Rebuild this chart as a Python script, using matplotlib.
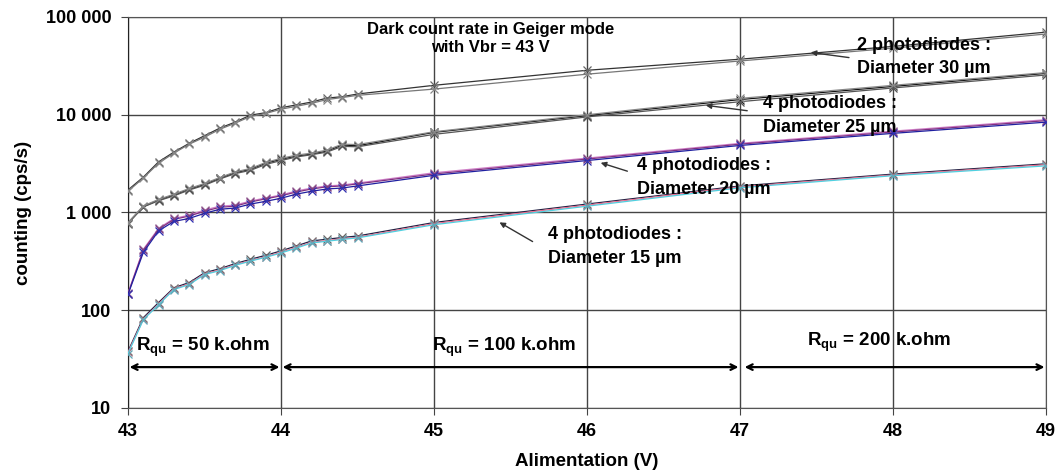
import matplotlib
matplotlib.use("Agg")
import matplotlib.pyplot as plt
from matplotlib.ticker import FixedLocator, NullLocator

plt.rcParams['font.family'] = ['Liberation Sans', 'DejaVu Sans']
plt.rcParams['font.weight'] = 'bold'
plt.rcParams['mathtext.fontset'] = 'custom'
plt.rcParams['mathtext.rm'] = 'Liberation Sans:bold'
plt.rcParams['mathtext.bf'] = 'Liberation Sans:bold'
plt.rcParams['mathtext.default'] = 'bf'

# supply voltage (V)
volts = [43.0, 43.1, 43.2, 43.3, 43.4, 43.5, 43.6, 43.7, 43.8, 43.9,
         44.0, 44.1, 44.2, 44.3, 44.4, 44.5, 45, 46, 47, 48, 49]

# 2 photodiodes, diameter 30 um
d30_a = [1700, 2300, 3300, 4150, 5100, 6100, 7300, 8400, 9900, 10500,
         11800, 12600, 13500, 14800, 15300, 16300, 20000, 28500, 37000, 50000, 70000]
d30_b = [1650, 2250, 3200, 4050, 5000, 5900, 7100, 8200, 9600, 10300,
         11400, 12200, 13100, 14300, 15000, 15800, 18300, 26000, 35500, 48000, 67000]

# 4 photodiodes, diameter 25 um
d25_a = [780, 1150, 1340, 1510, 1730, 1940, 2240, 2550, 2770, 3190,
         3500, 3780, 3960, 4250, 4900, 4820, 6600, 9800, 14300, 19500, 26500]
d25_b = [770, 1140, 1320, 1480, 1700, 1900, 2200, 2500, 2700, 3100,
         3400, 3700, 3900, 4150, 4750, 4700, 6300, 9500, 13600, 18800, 25500]
d25_c = [790, 1170, 1360, 1540, 1760, 1980, 2280, 2600, 2820, 3250,
         3580, 3860, 4050, 4350, 5000, 4950, 6700, 10000, 14700, 20000, 27000]

# 4 photodiodes, diameter 20 um
d20_a = [150, 420, 690, 870, 940, 1060, 1160, 1190, 1310, 1410,
         1510, 1660, 1780, 1870, 1910, 2000, 2550, 3600, 5100, 6800, 8900]
d20_b = [148, 410, 675, 850, 920, 1030, 1130, 1160, 1280, 1380,
         1480, 1620, 1740, 1830, 1870, 1960, 2480, 3520, 5000, 6650, 8700]
d20_c = [145, 390, 650, 810, 870, 980, 1080, 1110, 1220, 1300,
         1400, 1540, 1650, 1740, 1780, 1870, 2400, 3400, 4850, 6450, 8400]

# 4 photodiodes, diameter 15 um
d15_a = [38, 84, 120, 170, 192, 242, 266, 300, 332, 365,
         405, 455, 512, 533, 555, 575, 790, 1220, 1870, 2470, 3150]
d15_b = [37, 81, 116, 166, 186, 236, 258, 293, 322, 353,
         392, 440, 495, 516, 538, 558, 770, 1190, 1830, 2420, 3080]
d15_c = [36, 80, 114, 163, 183, 232, 254, 288, 318, 348,
         385, 432, 488, 508, 530, 550, 750, 1160, 1790, 2380, 3000]

y_ticks = [10, 100, 1000, 10000, 100000]
y_labels = ['10', '100', '1 000', '10 000', '100 000']
x_ticks = [43, 44, 45, 46, 47, 48, 49]

fig = plt.figure(figsize=(10.58, 4.72), dpi=100)
ax = fig.add_axes([0.121, 0.1356, 0.8677, 0.8284])

series = [
    (d30_a, '#333333', '#666666'), (d30_b, '#777777', '#888888'),
    (d25_a, '#111111', '#222222'), (d25_b, '#555555', '#555555'), (d25_c, '#888888', '#888888'),
    (d20_a, '#d080c8', '#a070a0'), (d20_b, '#803080', '#804080'), (d20_c, '#2020a0', '#3030b0'),
    (d15_a, '#222244', '#666666'), (d15_b, '#ee7090', '#aa7788'), (d15_c, '#50d0e0', '#60a8b8'),
]
for vals, col, mcol in series:
    ax.plot(volts, vals, color=col, lw=0.9, marker='x', ms=5.5, mew=0.9,
            mec=mcol, zorder=3)

ax.set_yscale('log')
ax.set_xlim(43, 49)
ax.set_ylim(10, 100000)
ax.yaxis.set_major_locator(FixedLocator(y_ticks))
ax.yaxis.set_minor_locator(NullLocator())
ax.set_yticklabels(y_labels)
ax.set_xticks(x_ticks)
ax.tick_params(axis='both', labelsize=13, length=5, color='#444444')
ax.tick_params(axis='y', pad=7)
ax.tick_params(axis='x', pad=6)
ax.grid(True, color='#444444', lw=1.0, zorder=1)
for s in ax.spines.values():
    s.set_color('#555555')
ax.spines['left'].set_color('#222222')

ax.set_xlabel('Alimentation (V)', fontsize=13.5, fontweight='bold', labelpad=9)
ax.set_ylabel('counting (cps/s)', fontsize=13.5, fontweight='bold', labelpad=10)

ax.text(45.37, 60000, 'Dark count rate in Geiger mode\nwith Vbr = 43 V',
        ha='center', va='center', fontsize=12, fontweight='bold', linespacing=1.3)

labels = [
    (47.765, 39000, '2 photodiodes :\nDiameter 30 µm', (47.73, 38100), (47.444, 43800)),
    (47.15, 9820, '4 photodiodes :\nDiameter 25 µm', (47.065, 10900), (46.758, 12600)),
    (46.327, 2280, '4 photodiodes :\nDiameter 20 µm', (46.281, 2594), (46.072, 3290)),
    (45.745, 449, '4 photodiodes :\nDiameter 15 µm', (45.66, 488), (45.412, 819)),
]
for tx, ty, txt, tail, head in labels:
    ax.text(tx, ty, txt, ha='left', va='center', fontsize=13,
            fontweight='bold', linespacing=1.5, zorder=4)
    ax.annotate('', xy=head, xytext=tail,
                arrowprops=dict(arrowstyle='-|>', color='#333333', lw=1.0,
                                mutation_scale=8), zorder=4)

ax.text(43.05, 42, r'R$_{qu}$ = 50 k.ohm', fontsize=13.5, va='center', ha='left')
ax.text(44.99, 42, r'R$_{qu}$ = 100 k.ohm', fontsize=13.5, va='center', ha='left')
ax.text(47.44, 47, r'R$_{qu}$ = 200 k.ohm', fontsize=13.5, va='center', ha='left')

for x0, x1 in [(43.01, 43.99), (44.01, 46.99), (47.03, 48.99)]:
    ax.annotate('', xy=(x1, 26.2), xytext=(x0, 26.2),
                arrowprops=dict(arrowstyle='<->', color='black', lw=1.6,
                                mutation_scale=10, shrinkA=0, shrinkB=0))

fig.savefig('out.png', dpi=100)
